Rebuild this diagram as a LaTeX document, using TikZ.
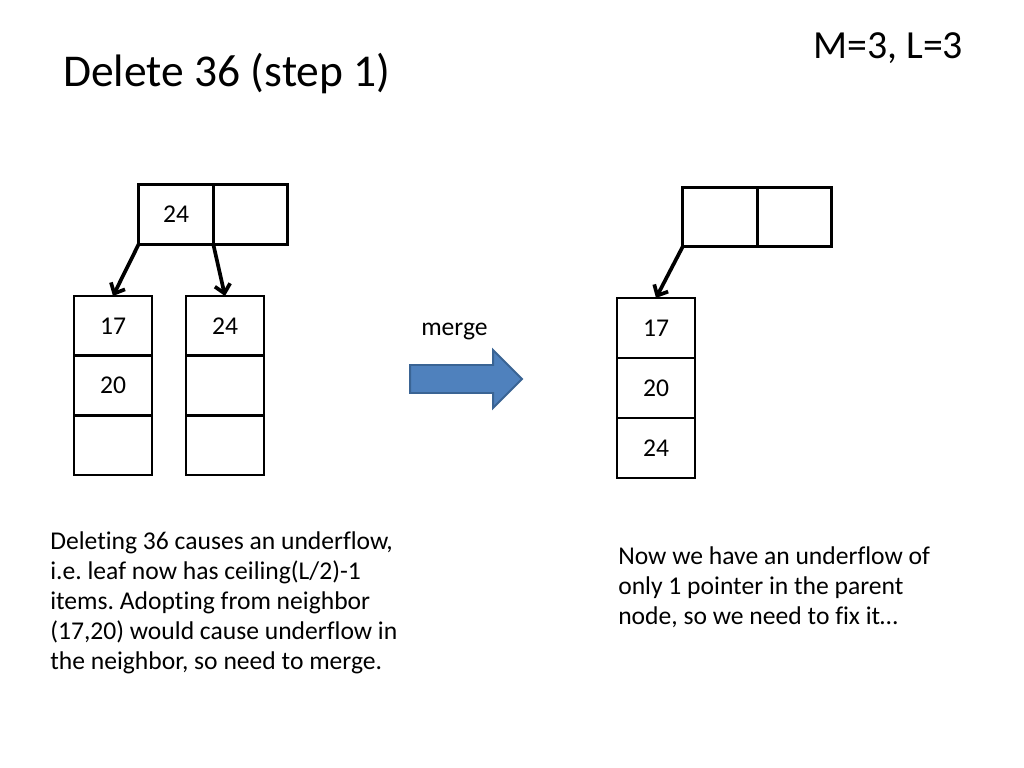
\documentclass[tikz,border=0pt]{standalone}
\usepackage{fontspec}
\setmainfont{Carlito}[Ligatures=NoCommon]
\usetikzlibrary{arrows.meta}
\frenchspacing

\tikzstyle{pcell}=[draw,line width=2pt,minimum width=52.4pt,minimum height=41.6pt,inner sep=0pt,outer sep=0pt,font=\fontsize{18}{21}\selectfont]
\tikzstyle{lcell}=[pcell,minimum width=54.8pt,minimum height=42.2pt]
\tikzstyle{ptr}=[draw,line width=2.6pt,-{Straight Barb[length=6pt,width=11pt]}]
\tikzstyle{note}=[anchor=north west,align=left,inner sep=0pt,font=\fontsize{18}{21.1}\selectfont]
\tikzstyle{blockarrow}=[draw=arrowline,fill=arrowfill,line width=1.4pt,line join=miter]
\definecolor{arrowfill}{HTML}{4F81BD}
\definecolor{arrowline}{HTML}{3A6494}
\newcommand{\pxunit}{0.703125pt}

\begin{document}
\begin{tikzpicture}[x=\pxunit, y=-\pxunit]
    \fill[white] (0,0) rectangle (1024,768);
    \useasboundingbox (0,0) rectangle (1024,768);
    % Titles
    \node[anchor=base west,inner sep=0pt,font=\fontsize{32}{38}\selectfont] (title) at (63,87) {Delete 36 (step 1)};
    \node[anchor=base west,inner sep=0pt,font=\fontsize{28}{34}\selectfont] (ml) at (813,59) {M=3, L=3};
    % Parent nodes
    \foreach \pos/\name/\val in {{(176,214.5)/pa/24}, {(250.5,214.5)/pb/}, {(720,217)/qa/}, {(794.5,217)/qb/}}
        \node[pcell] (\name) at \pos {\val};
    % Leaves
    \foreach \pos/\name/\val in {{(113,326)/la/17}, {(113,385.5)/lb/20}, {(113,445)/lc/},
                                 {(225,326)/ma/24}, {(225,385.5)/mb/}, {(225,445)/mc/},
                                 {(656,328)/ra/17}, {(656,388)/rb/20}, {(656,448)/rc/24}}
        \node[lcell] (\name) at \pos {\val};
    % Pointers
    \path[ptr] (pa.south west) -- (la.north);
    \path[ptr] (pa.south east) -- (ma.north);
    \path[ptr] (qa.south west) -- (ra.north);
    % Merge arrow
    \node[anchor=base west,inner sep=0pt,font=\fontsize{18}{21}\selectfont] (merge) at (421,336) {merge};
    \draw[blockarrow] (410,365) -- (493,365) -- (493,350) -- (522,379) -- (493,408) -- (493,393) -- (410,393) -- cycle;
    % Notes
    \node[note] (left note) at (50,531) {Deleting 36 causes an underflow,\\i.e. leaf now has ceiling(L/2)-1\\items. Adopting from neighbor\\(17,20) would cause underflow in\\the neighbor, so need to merge.};
    \node[note] (right note) at (618,546) {Now we have an underflow of\\only 1 pointer in the parent\\node, so we need to fix it…};
\end{tikzpicture}
\end{document}
